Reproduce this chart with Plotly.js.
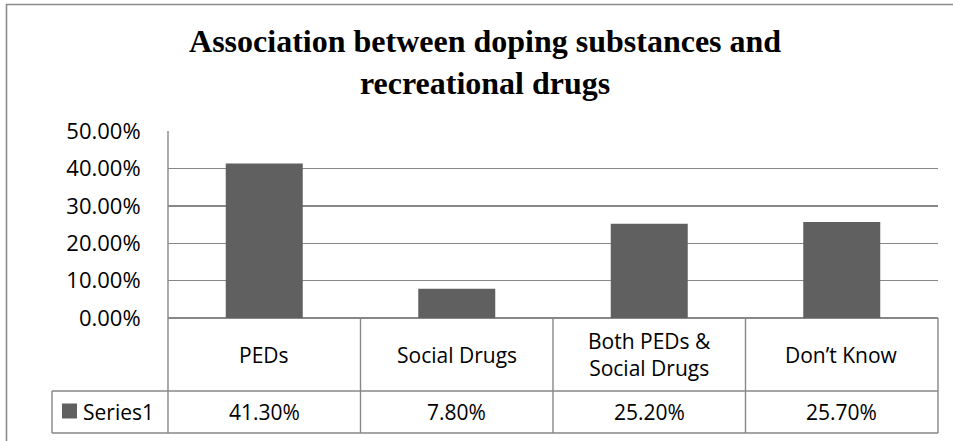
<!DOCTYPE html>
<html><head><meta charset="utf-8">
<script src="https://cdn.plot.ly/plotly-3.0.1.min.js"></script>
<style>html,body{margin:0;padding:0;background:#fff;}#chart{width:953px;height:441px;}</style>
</head><body><div id="chart"></div>
<script>
// ---- data ----
const categories = ['PEDs', 'Social Drugs', 'Both PEDs &<br>Social Drugs', 'Don\u2019t Know'];
const values = [0.413, 0.078, 0.252, 0.257];
const seriesName = 'Series1';
const yTickVals = [0, 0.1, 0.2, 0.3, 0.4, 0.5];
const titleText = 'Association between doping substances and<br>recreational drugs';

// ---- layout helpers ----
const W = 953, H = 441, L = 168, R = 938, T = 131, B = 318;
const plotW = R - L, plotH = B - T;
const px2x = p => (p - L) / plotW;
const py2y = p => (B - p) / plotH;
const n = categories.length;
const catEdge = i => i / n; // paper x of boundary before category i

const gridColor = '#878787';
const barColor = '#606060';
const textFont = 'Open Sans, sans-serif';
const lw = 1.4;

const headerBottom = py2y(391), tableBottom = py2y(433), legendLeft = px2x(52);
const shapes = [];
for (let i = 0; i <= n; i++) {
  shapes.push({type: 'line', xref: 'paper', yref: 'paper', x0: catEdge(i), x1: catEdge(i),
    y0: i === 0 ? 1 : 0, y1: tableBottom, line: {color: gridColor, width: lw}});
}
shapes.push({type: 'line', xref: 'paper', yref: 'paper', x0: legendLeft, x1: 1, y0: headerBottom, y1: headerBottom, line: {color: gridColor, width: lw}});
shapes.push({type: 'line', xref: 'paper', yref: 'paper', x0: legendLeft, x1: 1, y0: tableBottom, y1: tableBottom, line: {color: gridColor, width: lw}});
shapes.push({type: 'line', xref: 'paper', yref: 'paper', x0: legendLeft, x1: legendLeft, y0: headerBottom, y1: tableBottom, line: {color: gridColor, width: lw}});
// legend key
shapes.push({type: 'rect', xref: 'paper', yref: 'paper', x0: px2x(62), x1: px2x(77), y0: py2y(403.5), y1: py2y(418.5), fillcolor: barColor, line: {width: 0}});
// outer chart border
shapes.push({type: 'rect', xref: 'paper', yref: 'paper', x0: px2x(6.5), x1: px2x(970), y0: py2y(4.5), y1: py2y(460), fillcolor: 'rgba(0,0,0,0)', line: {color: '#8c8c8c', width: 1.6}});

const annotations = [];
const headerMid = headerBottom / 2, valueMid = (headerBottom + tableBottom) / 2;
categories.forEach((c, i) => {
  annotations.push({xref: 'x', yref: 'paper', x: c, y: headerMid, text: c, showarrow: false,
    xanchor: 'center', yanchor: 'middle', font: {family: textFont, size: 21, color: '#000'}});
  annotations.push({xref: 'x', yref: 'paper', x: c, y: valueMid, text: (values[i] * 100).toFixed(2) + '%', showarrow: false,
    xanchor: 'center', yanchor: 'middle', font: {family: textFont, size: 21, color: '#000'}});
});
annotations.push({xref: 'paper', yref: 'paper', x: px2x(81), y: valueMid, text: seriesName, showarrow: false,
  xanchor: 'left', yanchor: 'middle', font: {family: textFont, size: 21, color: '#000'}});

const trace = {
  type: 'bar', x: categories, y: values, name: seriesName, width: 0.4,
  marker: {color: barColor, line: {width: 0}}, hoverinfo: 'none'
};

const layout = {
  width: W, height: H,
  margin: {l: L, r: W - R, t: T, b: H - B, pad: 0},
  paper_bgcolor: '#fff', plot_bgcolor: '#fff',
  showlegend: false,
  title: {text: titleText, x: 0.509, xref: 'container', xanchor: 'center',
    y: 1 - 52 / H, yref: 'container', yanchor: 'middle',
    font: {family: 'Liberation Serif, Times New Roman, serif', size: 32, color: '#000', weight: 'bold'}},
  xaxis: {type: 'category', range: [-0.5, n - 0.5], showticklabels: false, showgrid: false, zeroline: false, showline: false, ticks: ''},
  yaxis: {range: [0, 0.5], tickvals: yTickVals, tickformat: '.2%', showgrid: true, gridcolor: gridColor, gridwidth: lw,
    zeroline: true, zerolinecolor: gridColor, zerolinewidth: lw, showline: false,
    ticks: 'outside', ticklen: 22, tickcolor: 'rgba(0,0,0,0)',
    tickfont: {family: textFont, size: 22, color: '#000'}},
  shapes: shapes,
  annotations: annotations
};

Plotly.newPlot('chart', [trace], layout, {staticPlot: true, displayModeBar: false});
</script>
</body></html>
